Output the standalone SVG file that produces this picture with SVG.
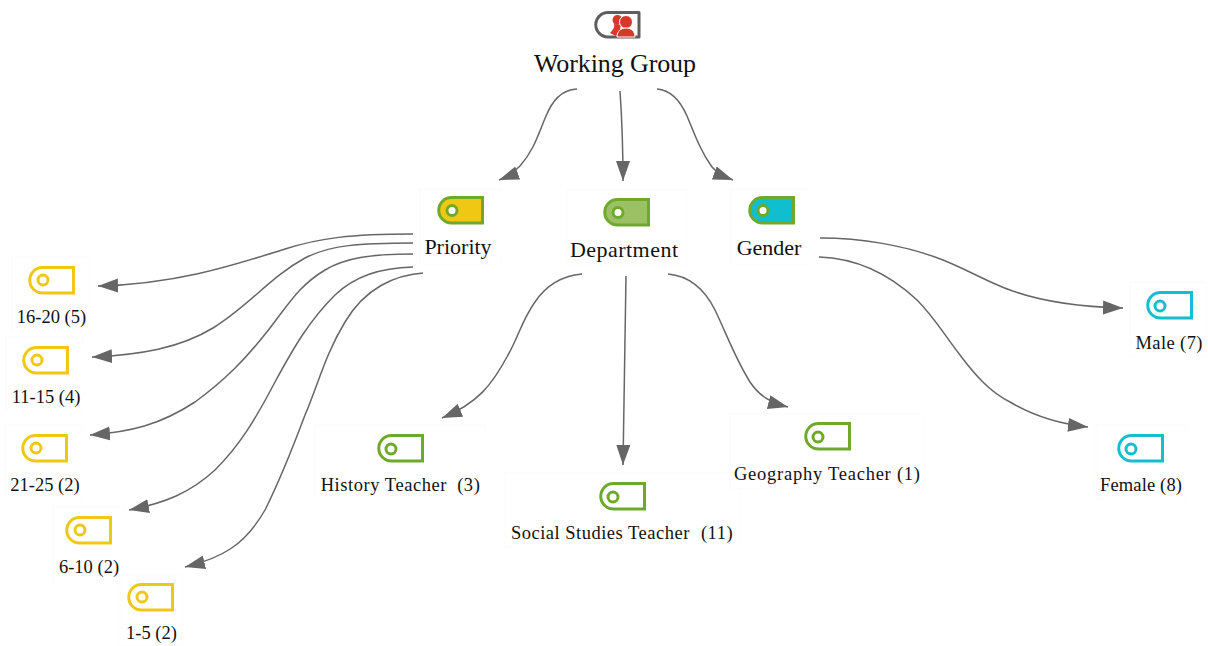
<svg xmlns="http://www.w3.org/2000/svg" width="1208" height="646" viewBox="0 0 1208 646">
<style>
text{font-family:"Liberation Serif","Times New Roman",serif;fill:#111;text-anchor:middle}
.leaf{font-size:18.5px}.mid{font-size:22px}.root{font-size:26px}
.dot{stroke-width:3;fill:#fff}
.y{stroke:#f0c814}.g{stroke:#6fa92c}.c{stroke:#14bdd0}
.box{fill:#fff;stroke:#fcfcfc}
#connectors path{fill:none;stroke:#666;stroke-width:1.5;marker-end:url(#arrow)}
</style>
<defs>
<marker id="arrow" markerUnits="userSpaceOnUse" markerWidth="22" markerHeight="16" refX="20" refY="7" orient="auto"><path d="M0,0L20,7L0,14Z" fill="#666"/></marker>
<path id="tagshape" d="M13.500,1.500H44.500V27H13.500A12.750,12.750 0 0 1 13.500,1.500Z"/>
</defs>
<rect width="1208" height="646" fill="#fff"/>
<g id="connectors">
<path d="M577,89C560,90 552,102 546,116C538,135 534,150 520,166C513,173 507,177 499,180"/>
<path d="M620,91C622,120 623,150 623,181"/>
<path d="M657,89C670,90 680,100 687,116C695,135 700,150 712,167C718,174 725,177 733,180"/>
<path d="M413,234C350,234 320,238 285,249C240,263 180,284 98,286"/>
<path d="M413,243C360,243 330,245 305,258C270,277 250,305 213,328C180,348 140,355 92,357"/>
<path d="M413,254C370,254 345,258 325,270C300,285 290,302 270,328C245,360 225,380 195,402C160,425 130,432 90,435"/>
<path d="M413,267C380,268 355,276 335,295C310,320 295,345 275,382C255,420 240,445 215,470C190,493 165,503 129,510"/>
<path d="M423,273C395,275 365,288 345,322C325,355 318,385 305,415C290,455 280,480 265,510C245,545 222,558 185,567"/>
<path d="M582,274C560,276 545,287 535,302C522,320 518,338 508,355C492,385 478,403 442,418"/>
<path d="M626,276L623,465"/>
<path d="M668,274C690,276 705,290 715,310C727,335 735,358 750,382C760,397 772,403 788,407"/>
<path d="M820,238C860,238 905,245 943,260C970,271 990,283 1010,290C1045,303 1085,307 1123,308"/>
<path d="M819,257C850,258 885,270 917,300C935,318 945,336 960,355C975,375 990,392 1010,402C1035,417 1060,424 1088,427"/>
</g>
<g id="working-group">
<path d="M608,12.500H639V37H608A12.250,12.250 0 0 1 608,12.500Z" fill="#fff" stroke="#5f5f5f" stroke-width="3" stroke-linejoin="round"/>
<circle cx="617.500" cy="20" r="5" fill="#d6392b"/>
<path d="M610,33C613,30 615,27 614,24L621,25L619,34L616,36Z" fill="#d6392b"/>
<circle cx="626" cy="22" r="6.500" fill="#d6392b" stroke="#fff" stroke-width="1"/>
<path d="M617,37C617,31 621,28 626,28C631,28 635,31 635,37Z" fill="#d6392b" stroke="#fff" stroke-width="1"/>
<text class="root" x="615" y="72" textLength="162">Working Group</text>
</g>
<g id="priority"><rect class="box" x="420" y="189" width="81" height="75"/>
<use href="#tagshape" x="438" y="196" class="g" fill="#f0c814" stroke-width="3"/><circle class="dot g" cx="452" cy="210.500" r="5"/>
<text class="mid" x="458" y="254">Priority</text></g>
<g id="department"><rect class="box" x="567" y="190" width="119" height="75"/>
<use href="#tagshape" x="604" y="198" class="g" fill="#9cc165" stroke-width="3"/><circle class="dot g" cx="618" cy="212.500" r="5"/>
<text class="mid" x="624" y="257" textLength="108">Department</text></g>
<g id="gender"><rect class="box" x="731" y="189" width="80" height="75"/>
<use href="#tagshape" x="749" y="196" class="g" fill="#0fbfcf" stroke-width="3"/><circle class="dot g" cx="763" cy="210.500" r="5"/>
<text class="mid" x="769" y="255">Gender</text></g>
<g id="r16-20"><rect class="box" x="12" y="257" width="77" height="74"/>
<use href="#tagshape" x="29" y="266" class="y" fill="#fff" stroke-width="3"/><circle class="dot y" cx="43" cy="280" r="5"/>
<text class="leaf" x="51.500" y="323">16-20 (5)</text></g>
<g id="r11-15"><rect class="box" x="6" y="337" width="77" height="74"/>
<use href="#tagshape" x="23" y="346" class="y" fill="#fff" stroke-width="3"/><circle class="dot y" cx="37" cy="360" r="5"/>
<text class="leaf" x="46" y="403">11-15 (4)</text></g>
<g id="r21-25"><rect class="box" x="5" y="425" width="77" height="74"/>
<use href="#tagshape" x="22" y="434" class="y" fill="#fff" stroke-width="3"/><circle class="dot y" cx="36" cy="448" r="5"/>
<text class="leaf" x="45" y="491">21-25 (2)</text></g>
<g id="r6-10"><rect class="box" x="53" y="507" width="70" height="74"/>
<use href="#tagshape" x="66" y="516" class="y" fill="#fff" stroke-width="3"/><circle class="dot y" cx="80" cy="530" r="5"/>
<text class="leaf" x="89" y="573">6-10 (2)</text></g>
<g id="r1-5"><rect class="box" x="120" y="575" width="62" height="70"/>
<use href="#tagshape" x="128" y="583" class="y" fill="#fff" stroke-width="3"/><circle class="dot y" cx="142" cy="597" r="5"/>
<text class="leaf" x="151.500" y="639">1-5 (2)</text></g>
<g id="history"><rect class="box" x="315" y="425" width="170" height="74"/>
<use href="#tagshape" x="378" y="434" class="g" fill="#fff" stroke-width="3"/><circle class="dot g" cx="391" cy="449" r="5"/>
<text class="leaf" x="400.500" y="491" letter-spacing="0.550">History Teacher <tspan dx="5">(3)</tspan></text></g>
<g id="social"><rect class="box" x="505" y="473" width="235" height="74"/>
<use href="#tagshape" x="600" y="482" class="g" fill="#fff" stroke-width="3"/><circle class="dot g" cx="613" cy="497" r="5"/>
<text class="leaf" x="622" y="539" letter-spacing="0.500">Social Studies Teacher <tspan dx="6">(11)</tspan></text></g>
<g id="geography"><rect class="box" x="730" y="414" width="194" height="74"/>
<use href="#tagshape" x="805" y="422" class="g" fill="#fff" stroke-width="3"/><circle class="dot g" cx="818" cy="437" r="5"/>
<text class="leaf" x="827" y="480" textLength="186">Geography Teacher (1)</text></g>
<g id="male"><rect class="box" x="1130" y="282" width="76" height="74"/>
<use href="#tagshape" x="1147" y="291" class="c" fill="#fff" stroke-width="3"/><circle class="dot c" cx="1160" cy="306" r="5"/>
<text class="leaf" x="1169" y="349" textLength="67">Male (7)</text></g>
<g id="female"><rect class="box" x="1096" y="425" width="90" height="74"/>
<use href="#tagshape" x="1118" y="434" class="c" fill="#fff" stroke-width="3"/><circle class="dot c" cx="1131" cy="449" r="5"/>
<text class="leaf" x="1141" y="491" textLength="82">Female (8)</text></g>
</svg>
